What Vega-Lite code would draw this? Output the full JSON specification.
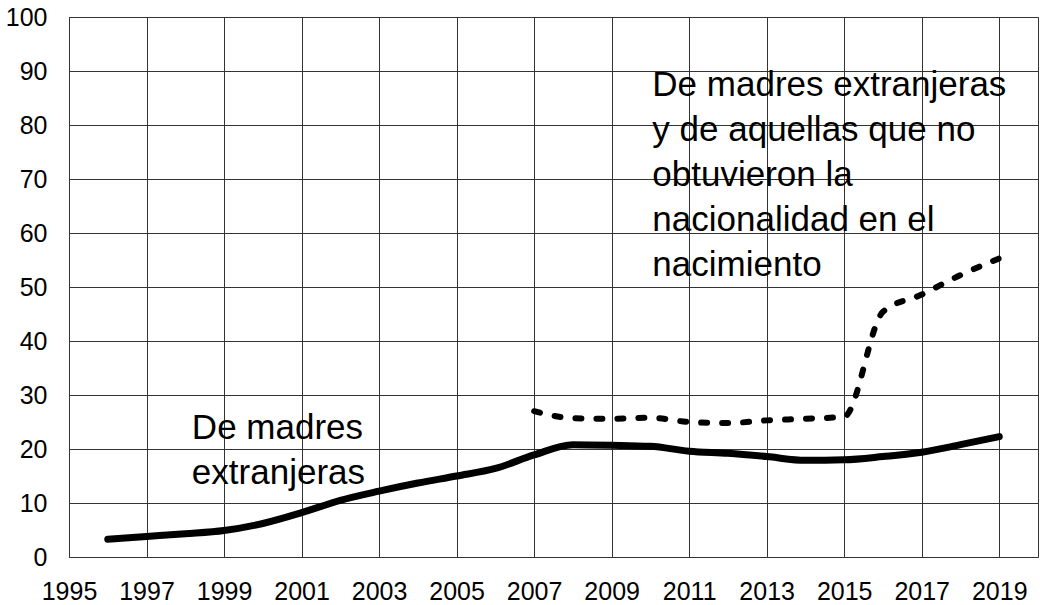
{
  "$schema": "https://vega.github.io/schema/vega-lite/v6.json",
  "autosize": "none",
  "width": 969,
  "height": 540,
  "padding": {"left": 69, "top": 17, "right": 9, "bottom": 48},
  "background": "white",
  "config": {
    "view": {"stroke": "#333", "strokeWidth": 1},
    "font": "Liberation Sans"
  },
  "datasets": {
    "lines": [
      {"year": 1996, "value": 3.3, "series": "De madres extranjeras"},
      {"year": 1997, "value": 3.8, "series": "De madres extranjeras"},
      {"year": 1998, "value": 4.3, "series": "De madres extranjeras"},
      {"year": 1999, "value": 4.9, "series": "De madres extranjeras"},
      {"year": 2000, "value": 6.2, "series": "De madres extranjeras"},
      {"year": 2001, "value": 8.2, "series": "De madres extranjeras"},
      {"year": 2002, "value": 10.5, "series": "De madres extranjeras"},
      {"year": 2003, "value": 12.2, "series": "De madres extranjeras"},
      {"year": 2004, "value": 13.7, "series": "De madres extranjeras"},
      {"year": 2005, "value": 15.0, "series": "De madres extranjeras"},
      {"year": 2006, "value": 16.4, "series": "De madres extranjeras"},
      {"year": 2007, "value": 18.9, "series": "De madres extranjeras"},
      {"year": 2008, "value": 20.8, "series": "De madres extranjeras"},
      {"year": 2009, "value": 20.7, "series": "De madres extranjeras"},
      {"year": 2010, "value": 20.5, "series": "De madres extranjeras"},
      {"year": 2011, "value": 19.6, "series": "De madres extranjeras"},
      {"year": 2012, "value": 19.2, "series": "De madres extranjeras"},
      {"year": 2013, "value": 18.6, "series": "De madres extranjeras"},
      {"year": 2014, "value": 17.9, "series": "De madres extranjeras"},
      {"year": 2015, "value": 18.0, "series": "De madres extranjeras"},
      {"year": 2016, "value": 18.6, "series": "De madres extranjeras"},
      {"year": 2017, "value": 19.4, "series": "De madres extranjeras"},
      {"year": 2018, "value": 20.8, "series": "De madres extranjeras"},
      {"year": 2019, "value": 22.3, "series": "De madres extranjeras"},
      {"year": 2007, "value": 27.0, "series": "De madres extranjeras y no nacionales"},
      {"year": 2008, "value": 25.7, "series": "De madres extranjeras y no nacionales"},
      {"year": 2009, "value": 25.6, "series": "De madres extranjeras y no nacionales"},
      {"year": 2010, "value": 25.8, "series": "De madres extranjeras y no nacionales"},
      {"year": 2011, "value": 25.0, "series": "De madres extranjeras y no nacionales"},
      {"year": 2012, "value": 24.8, "series": "De madres extranjeras y no nacionales"},
      {"year": 2013, "value": 25.3, "series": "De madres extranjeras y no nacionales"},
      {"year": 2014, "value": 25.6, "series": "De madres extranjeras y no nacionales"},
      {"year": 2015, "value": 26.0, "series": "De madres extranjeras y no nacionales"},
      {"year": 2016, "value": 45.4, "series": "De madres extranjeras y no nacionales"},
      {"year": 2017, "value": 48.6, "series": "De madres extranjeras y no nacionales"},
      {"year": 2018, "value": 52.2, "series": "De madres extranjeras y no nacionales"},
      {"year": 2019, "value": 55.3, "series": "De madres extranjeras y no nacionales"}
    ],
    "labels": [
      {"year": 1998.17, "value": 21.9, "label": "De madres\nextranjeras"},
      {"year": 2010.05, "value": 85.4, "label": "De madres extranjeras\ny de aquellas que no\nobtuvieron la\nnacionalidad en el\nnacimiento"}
    ]
  },
  "encoding": {
    "x": {
      "field": "year", "type": "quantitative",
      "scale": {"domain": [1995, 2020], "nice": false, "zero": false},
      "axis": {
        "title": null, "values": [1995, 1997, 1999, 2001, 2003, 2005, 2007, 2009, 2011, 2013, 2015, 2017, 2019],
        "format": "d", "domain": false, "ticks": false, "grid": true,
        "gridColor": "#333", "gridOpacity": 1, "gridWidth": 1,
        "labelOverlap": false, "labelFlush": false, "labelBound": false,
        "labelFontSize": 25, "labelColor": "black", "labelPadding": 22, "labelFont": "Liberation Sans"
      }
    },
    "y": {
      "field": "value", "type": "quantitative",
      "scale": {"domain": [0, 100], "nice": false},
      "axis": {
        "title": null, "values": [0, 10, 20, 30, 40, 50, 60, 70, 80, 90, 100],
        "domain": false, "ticks": false, "grid": true,
        "gridColor": "#333", "gridOpacity": 1, "gridWidth": 1,
        "labelOverlap": false, "labelFlush": false, "labelBound": false,
        "labelFontSize": 25, "labelColor": "black", "labelPadding": 22, "labelFont": "Liberation Sans"
      }
    }
  },
  "layer": [
    {
      "data": {"name": "lines"},
      "transform": [{"filter": "datum.series == 'De madres extranjeras'"}],
      "mark": {"type": "line", "color": "black", "strokeWidth": 7, "strokeCap": "round", "interpolate": "monotone"}
    },
    {
      "data": {"name": "lines"},
      "transform": [{"filter": "datum.series != 'De madres extranjeras'"}],
      "mark": {"type": "line", "color": "black", "strokeWidth": 6, "strokeCap": "round", "strokeDash": [6, 15], "interpolate": "monotone"}
    },
    {
      "data": {"name": "labels"},
      "mark": {"type": "text", "align": "left", "baseline": "alphabetic", "fontSize": 35, "lineHeight": 45, "lineBreak": "\n", "color": "black", "font": "Liberation Sans"},
      "encoding": {"text": {"field": "label"}}
    }
  ]
}
